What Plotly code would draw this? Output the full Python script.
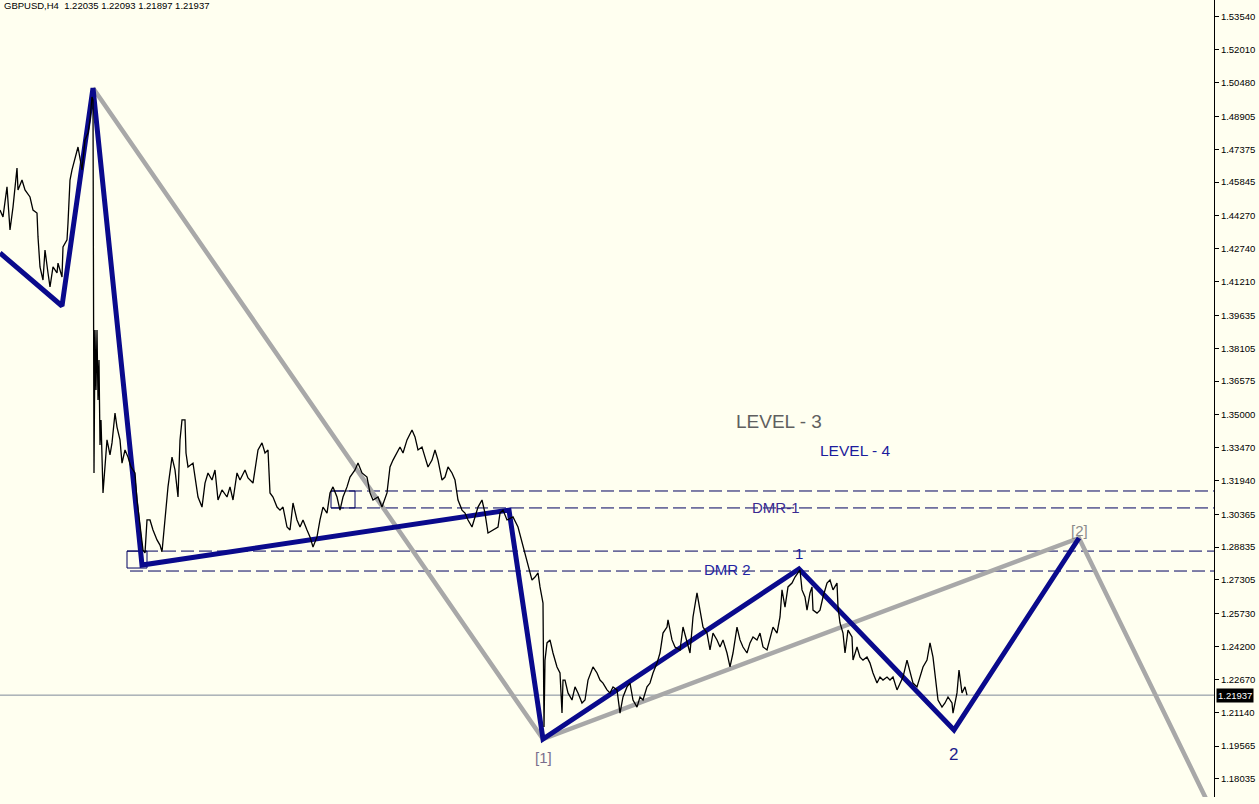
import plotly.graph_objects as go

# ---------------- data ----------------
bars = [0, 3, 7, 10, 13, 17, 18, 22, 25, 30, 33, 37, 38, 40, 43, 45, 48, 50, 53, 57, 58, 62, 63, 67, 68, 70, 72, 75, 78, 82, 85, 88, 90, 92, 93, 94, 95, 96, 97, 98, 99, 100, 101, 103, 105, 107, 110, 112, 115, 117, 120, 122, 125, 128, 131, 135, 137, 140,
        143, 145, 147, 150, 153, 157, 160, 162, 165, 168, 172, 175, 178, 180, 182, 185, 186, 188, 193, 198, 202, 205, 208, 212, 215, 218, 222, 227, 230, 233, 237, 240, 245, 248, 253, 258, 262, 265, 268, 270, 273, 277, 280, 283, 287, 290, 293, 297, 300, 303, 307, 310, 313, 317, 320, 323, 327, 330, 333, 337, 340, 343, 347, 350, 355, 358, 362, 367, 370, 373, 378, 382, 387, 390, 393, 397, 400, 403, 407, 412, 415, 418, 422, 425, 428, 432, 435, 438, 442, 445, 448, 452, 455, 458, 462, 465, 468, 472, 475, 478, 482, 485, 488, 493, 498,
        500, 503, 507, 513, 518, 522, 525, 528, 532, 535, 538, 540, 543, 544, 545, 547, 550, 553, 557, 560, 562, 563, 565, 568, 572, 575, 578, 582, 585, 588, 593, 597, 600, 603, 607, 610, 613, 617, 620, 623, 627, 630, 633, 637, 640, 643, 647, 650, 653, 657, 660, 663, 667, 668, 672, 675, 680, 683, 687, 690, 693, 697, 700, 703, 707, 710, 713, 717, 720, 723, 727, 730, 733, 737, 740, 743, 747, 750, 753, 757, 760, 763, 767, 770, 773, 777, 780, 782, 785, 788, 792, 795, 798,
        800, 802, 805, 807, 810, 812, 813, 817, 820, 823, 827, 830, 833, 837, 838, 840, 843, 845, 848, 852, 853, 857, 860, 863, 867, 870, 873, 877, 880, 883, 887, 890, 893, 897, 900, 903, 907, 910, 913, 917, 920, 923, 927, 930, 933, 935, 938, 942, 945, 948, 952, 953, 957, 959, 962, 965, 967]

close = [1.4454, 1.4422, 1.4562, 1.4361, 1.4468, 1.4650, 1.4548, 1.4594, 1.4548, 1.4515, 1.4454, 1.4440, 1.4329, 1.4189, 1.4128, 1.4268, 1.4161, 1.4096, 1.4189, 1.4161, 1.4207, 1.4142, 1.4282, 1.4315, 1.4394, 1.4594, 1.4641, 1.4701, 1.4748, 1.4641, 1.4781, 1.4813, 1.4874, 1.4981, 1.4967, 1.3229, 1.3895, 1.3616, 1.3895, 1.3569, 1.3755, 1.3359, 1.3476, 1.3136, 1.3243, 1.3383, 1.3313, 1.3369, 1.3508, 1.3443, 1.3383, 1.3275, 1.3336, 1.3303, 1.3257, 1.3229, 1.3103, 1.2977,
         1.2870, 1.2856, 1.3010, 1.3010, 1.2963, 1.2917, 1.2893, 1.2861, 1.3010, 1.3164, 1.3303, 1.3243, 1.3117, 1.3383, 1.3476, 1.3476, 1.3322, 1.3257, 1.3275, 1.3117, 1.3070, 1.3182, 1.3229, 1.3196, 1.3243, 1.3103, 1.3150, 1.3117, 1.3164, 1.3103, 1.3229, 1.3196, 1.3243, 1.3206, 1.3182, 1.3336, 1.3369, 1.3322, 1.3336, 1.3136, 1.3117, 1.3070, 1.3056, 1.3070, 1.2977, 1.2963, 1.3089, 1.3010, 1.2977, 1.3010, 1.2963, 1.2931, 1.2884, 1.2931, 1.3010, 1.3070, 1.3042, 1.3136, 1.3164, 1.3117, 1.3056, 1.3117, 1.3164, 1.3210, 1.3243, 1.3275, 1.3229, 1.3210, 1.3136, 1.3103, 1.3117, 1.3070, 1.3136, 1.3257, 1.3289, 1.3322, 1.3350, 1.3322, 1.3383, 1.3429, 1.3397, 1.3336, 1.3350, 1.3303, 1.3257, 1.3289, 1.3336, 1.3289, 1.3196, 1.3210, 1.3257, 1.3229, 1.3196, 1.3103, 1.3056, 1.3042, 1.3010, 1.2977, 1.3024, 1.3070, 1.3103, 1.3042, 1.2949, 1.2963, 1.2977,
         1.3042, 1.3056, 1.3010, 1.3024, 1.2977, 1.2903, 1.2856, 1.2791, 1.2730, 1.2744, 1.2763, 1.2698, 1.2623, 1.2045, 1.2357, 1.2437, 1.2451, 1.2390, 1.2325, 1.2297, 1.2110, 1.2264, 1.2264, 1.2204, 1.2171, 1.2232, 1.2204, 1.2157, 1.2171, 1.2264, 1.2325, 1.2297, 1.2264, 1.2250, 1.2218, 1.2204, 1.2232, 1.2218, 1.2110, 1.2185, 1.2232, 1.2250, 1.2171, 1.2138, 1.2185, 1.2171, 1.2232, 1.2250, 1.2297, 1.2343, 1.2390, 1.2483, 1.2511, 1.2544, 1.2451, 1.2418, 1.2404, 1.2511, 1.2437, 1.2390, 1.2558, 1.2670, 1.2590, 1.2511, 1.2483, 1.2404, 1.2483, 1.2451, 1.2418, 1.2451, 1.2390, 1.2325, 1.2390, 1.2511, 1.2451, 1.2418, 1.2390, 1.2437, 1.2465, 1.2451, 1.2483, 1.2418, 1.2404, 1.2465, 1.2511, 1.2483, 1.2558, 1.2684, 1.2604, 1.2698, 1.2716, 1.2744, 1.2763,
         1.2777, 1.2684, 1.2651, 1.2590, 1.2670, 1.2698, 1.2590, 1.2576, 1.2590, 1.2651, 1.2716, 1.2730, 1.2684, 1.2716, 1.2604, 1.2530, 1.2483, 1.2390, 1.2497, 1.2465, 1.2357, 1.2418, 1.2371, 1.2357, 1.2371, 1.2343, 1.2297, 1.2250, 1.2278, 1.2264, 1.2278, 1.2264, 1.2278, 1.2218, 1.2250, 1.2278, 1.2357, 1.2297, 1.2250, 1.2232, 1.2278, 1.2325, 1.2357, 1.2437, 1.2371, 1.2278, 1.2171, 1.2138, 1.2157, 1.2185, 1.2157, 1.2110, 1.2204, 1.2311, 1.2204, 1.2232, 1.21937]

# wave counts
blue_x = [0, 62, 93, 142, 509, 543, 799, 954, 1079]
blue_y = [1.4254, 1.4007, 1.5023, 1.2800, 1.3056, 1.1989, 1.2782, 1.2031, 1.2926]
gray_x = [93, 543, 1079, 1212]
gray_y = [1.5023, 1.1989, 1.2926, 1.1654]

# horizontal levels
level_prices = [1.3145, 1.3066, 1.2865, 1.2772]
level_start = [331, 331, 127, 130]
box_x0 = [127, 331]
box_x1 = [147, 355]
box_lo = [1.2786, 1.3066]
box_hi = [1.2865, 1.3145]

last_price = 1.21937
title_text = "GBPUSD,H4  1.22035 1.22093 1.21897 1.21937"

tick_vals = [1.53540, 1.52010, 1.50480, 1.48905, 1.47375, 1.45845, 1.44270, 1.42740,
             1.41210, 1.39635, 1.38105, 1.36575, 1.35000, 1.33470, 1.31940, 1.30365,
             1.28835, 1.27305, 1.25730, 1.24200, 1.22670, 1.21140, 1.19565, 1.18035]
tick_text = ["%.5f" % v for v in tick_vals]

labels = [
    ("LEVEL - 3", 779, 1.3467, "#5f5f5f", 19),
    ("LEVEL - 4", 855, 1.3336, "#1c1c9c", 15.5),
    ("DMR-1", 776, 1.3066, "#3a2a90", 15),
    ("DMR 2", 727, 1.2777, "#2424a0", 15),
    ("1", 799, 1.2853, "#1c1c9c", 15),
    ("2", 953, 1.1915, "#1c1c8c", 17),
    ("[1]", 543, 1.1901, "#7a6e8c", 15),
    ("[2]", 1079, 1.2963, "#8a8a8a", 15),
]

BG = "#FFFFF0"
FONT = "Liberation Sans"
X_RANGE = [0, 1214]
Y_RANGE = [1.1719, 1.5433]

fig = go.Figure()

fig.add_trace(go.Scatter(x=gray_x, y=gray_y, mode="lines",
                         line=dict(color="#a8a8a8", width=4.5), hoverinfo="skip"))
fig.add_trace(go.Scatter(x=blue_x, y=blue_y, mode="lines",
                         line=dict(color="#0a0a8c", width=5), hoverinfo="skip"))
fig.add_trace(go.Scatter(x=bars, y=close, mode="lines",
                         line=dict(color="#000000", width=1.3), hoverinfo="skip"))

shapes = []
for p, s in zip(level_prices, level_start):
    shapes.append(dict(type="line", xref="x", yref="y", x0=s, x1=X_RANGE[1], y0=p, y1=p,
                       line=dict(color="#000060", width=1, dash="13px,5px"), layer="below"))
for x0, x1, lo, hi in zip(box_x0, box_x1, box_lo, box_hi):
    shapes.append(dict(type="rect", xref="x", yref="y", x0=x0, x1=x1, y0=lo, y1=hi,
                       line=dict(color="#000060", width=1), fillcolor="rgba(0,0,0,0)", layer="below"))
shapes.append(dict(type="line", xref="paper", yref="y", x0=0, x1=1, y0=last_price, y1=last_price,
                   line=dict(color="#7f8a99", width=1), layer="below"))

annotations = []
for txt, x, y, c, sz in labels:
    annotations.append(dict(text=txt, x=x, y=y, xref="x", yref="y", showarrow=False,
                            font=dict(family=FONT, size=sz, color=c), xanchor="center", yanchor="middle"))
annotations.append(dict(text=title_text, x=0.002, y=1, xref="paper", yref="paper", showarrow=False,
                        xanchor="left", yanchor="top", yshift=2,
                        font=dict(family=FONT, size=9.5, color="#000000")))
annotations.append(dict(text="%.5f" % last_price, x=1, y=last_price, xref="paper", yref="y",
                        showarrow=False, xanchor="left", yanchor="middle", xshift=2,
                        bgcolor="#000000", borderpad=1,
                        font=dict(family=FONT, size=9.5, color="#ffffff")))

fig.update_layout(
    width=1259, height=804,
    margin=dict(l=0, r=45, t=0, b=7),
    paper_bgcolor=BG, plot_bgcolor=BG,
    showlegend=False,
    shapes=shapes, annotations=annotations,
    xaxis=dict(range=X_RANGE, visible=False, showgrid=False, zeroline=False),
    yaxis=dict(range=Y_RANGE, side="right", showgrid=False, zeroline=False,
               showline=True, linecolor="#000000", linewidth=1,
               ticks="outside", ticklen=4, tickcolor="#000000",
               tickvals=tick_vals, ticktext=tick_text,
               tickfont=dict(family=FONT, size=9.5, color="#000000")),
)

fig.write_html("out.html", config={"displayModeBar": False},
               post_script="document.body.style.margin='0px';document.body.style.overflow='hidden';document.body.style.background='" + BG + "';")
